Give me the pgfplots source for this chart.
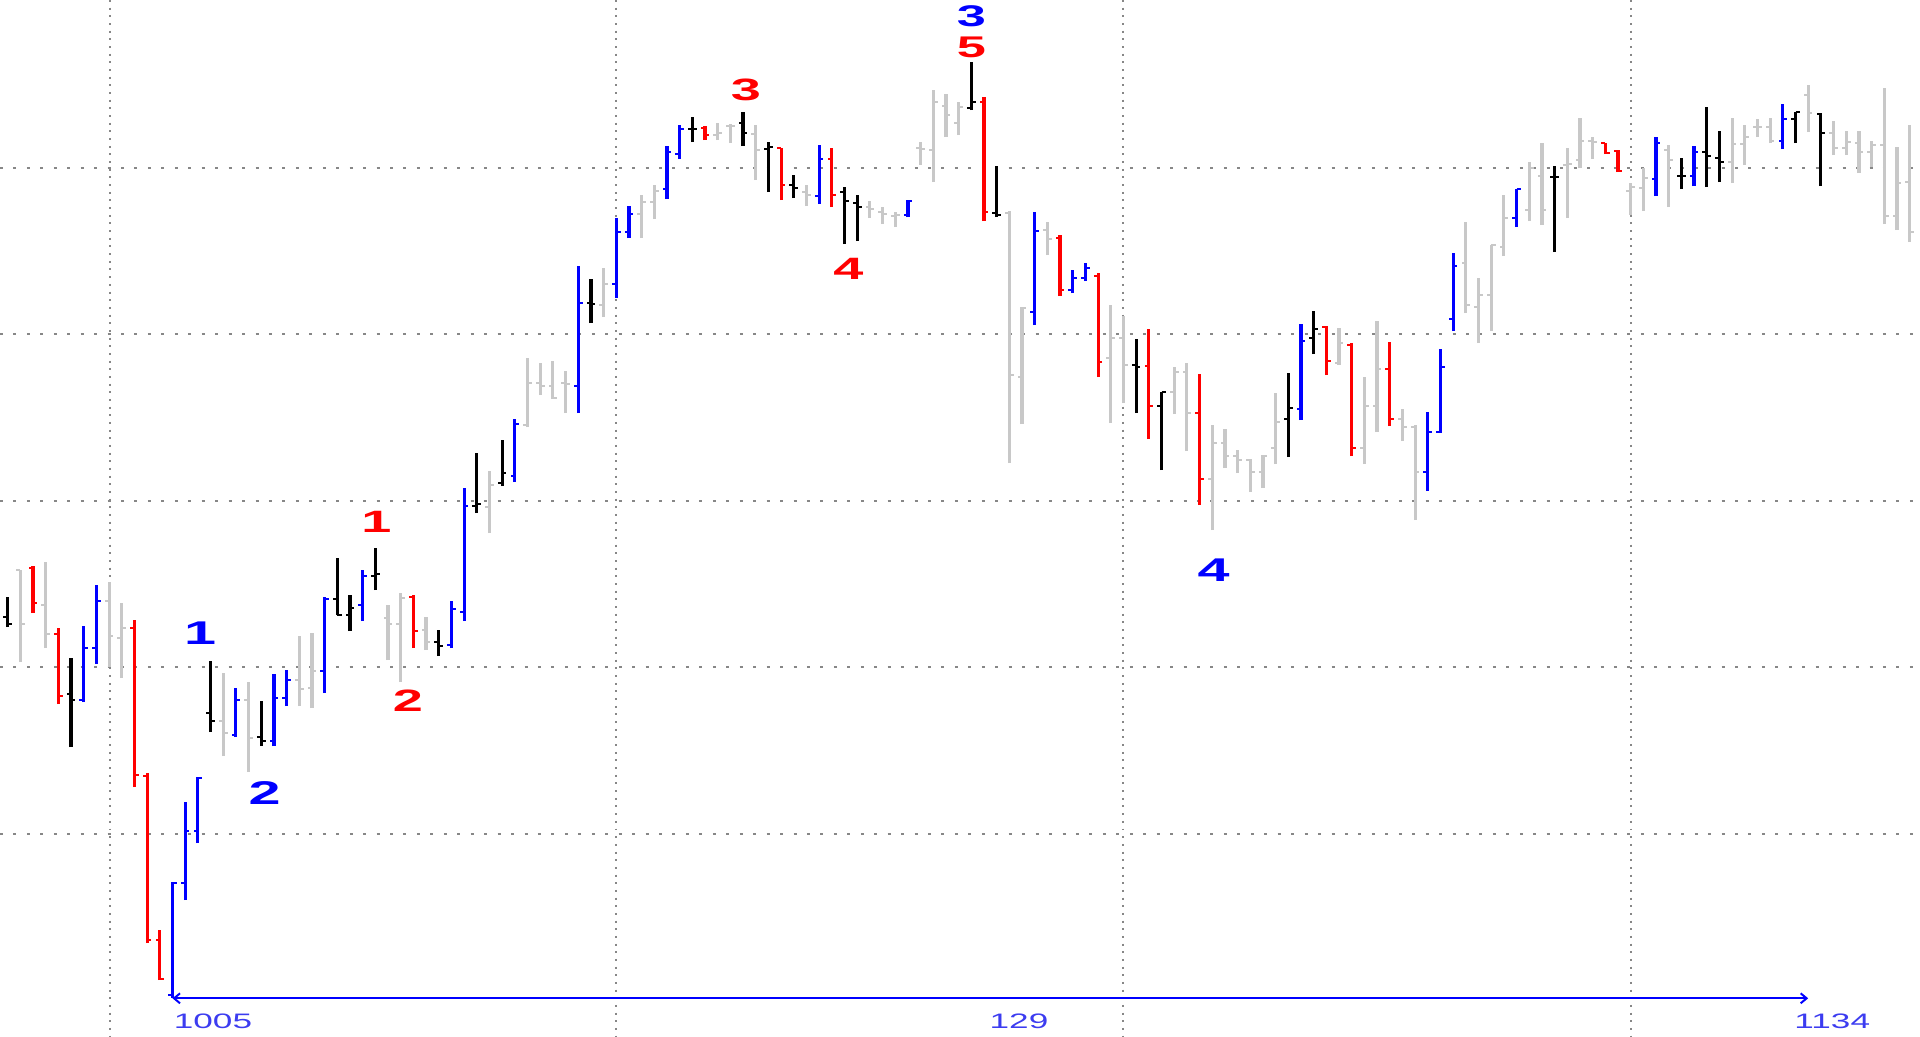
\documentclass[border=0pt]{standalone}
\usepackage{fontspec}
\setmainfont{Liberation Sans}
\usepackage{graphicx}
\usepackage{pgfplots}
\usepackage{pgfplotstable}
\pgfplotsset{compat=1.18}
\usetikzlibrary{arrows.meta}
\definecolor{bargray}{RGB}{200,200,200}
\definecolor{barblue}{RGB}{0,0,255}
\definecolor{barred}{RGB}{255,0,0}
\definecolor{gridgray}{RGB}{135,135,135}
\definecolor{lblblue}{RGB}{60,60,240}

% columns: x (bar index), o (open), h (high), l (low), c (close); prices in chart units (downward axis)
\pgfplotstableread{
x o h l c
-12 570 570 662 624
-10 605 562 648 634
-5 601 582 667 636
-4 638 603 678 628
4 721 673 756 733
6 700 682 772 738
10 680 636 706 689
11 688 633 708 671
17 618 605 660 624
18 624 593 682 598
20 630 617 650 642
25 507 471 533 485
28 425 358 427 383
29 383 363 395 386
30 386 361 399 398
31 383 371 413 384
34 305 268 317 284
37 214 195 238 202
38 202 185 219 191
43 135 123 140 133
44 126 124 143 126
46 134 125 180 150
50 192 185 206 195
55 207 201 218 209
56 212 207 224 214
57 216 212 227 215
59 148 142 165 149
60 150 90 182 102
61 106 94 137 115
62 123 102 135 107
66 213 211 463 375
67 377 307 424 308
69 230 222 255 239
74 358 305 423 338
75 338 316 403 365
79 392 367 414 372
80 372 363 451 413
82 479 425 530 443
83 443 429 468 456
84 456 450 473 460
85 460 459 492 472
86 472 455 488 456
87 448 393 464 422
92 363 328 365 343
94 448 377 464 406
95 406 321 432 369
97 419 409 441 427
98 427 425 520 472
102 263 222 313 305
103 307 278 343 295
104 295 245 331 245
105 247 195 256 218
107 210 162 221 168
108 176 143 225 210
110 165 148 218 164
111 160 118 168 141
112 141 137 159 142
115 191 183 215 187
116 188 168 211 178
118 150 145 207 160
123 162 118 183 144
124 144 125 165 137
125 127 119 137 127
126 127 118 143 141
129 95 85 132 113
131 133 121 155 148
132 148 131 155 142
133 143 131 173 152
134 152 141 167 145
135 145 88 224 216
136 216 147 230 183
137 182 125 242 232
}\graydata

\pgfplotstableread{
x o h l c
-13 617 597 627 624
-8 694 658 747 700
3 713 661 732 721
7 737 701 746 741
13 599 558 615 615
14 615 595 631 608
16 576 548 590 574
21 642 630 656 646
24 506 453 513 504
26 483 440 486 473
33 303 279 323 304
41 129 117 142 129
45 123 112 146 133
47 149 142 192 147
49 185 175 198 188
53 192 187 244 201
54 203 195 241 207
63 108 62 110 102
65 213 166 217 215
76 365 339 413 367
78 406 392 470 392
88 419 373 457 408
90 338 311 354 329
109 177 166 252 177
119 176 158 189 176
121 152 107 187 156
122 158 131 182 162
128 119 112 143 112
130 114 113 186 133
}\blackdata

\pgfplotstableread{
x o h l c
-7 700 626 702 648
-6 648 585 664 601
0 995 882 998 883
1 883 802 900 831
2 831 777 843 778
5 735 688 737 700
8 741 674 746 698
9 698 670 706 680
12 671 597 693 599
15 605 570 621 576
22 645 601 648 609
23 612 488 621 506
27 476 419 482 424
32 386 266 413 303
35 284 218 298 232
36 232 206 238 214
39 189 146 199 152
40 154 125 159 129
51 196 145 204 159
58 215 200 217 201
68 312 212 325 231
71 290 270 293 278
72 278 263 281 268
89 409 324 420 341
99 472 412 491 432
100 432 349 433 367
101 319 253 331 266
106 218 189 227 189
117 179 137 196 143
120 176 146 186 152
127 141 104 149 119
}\bluedata

\pgfplotstableread{
x o h l c
-11 568 566 613 603
-9 634 628 704 696
-3 628 620 787 775
-2 776 773 943 940
-1 940 930 980 979
19 597 595 648 631
42 128 126 140 135
48 148 148 200 185
52 159 148 207 195
64 102 97 221 212
70 238 235 296 290
73 276 273 377 362
77 366 329 439 406
81 413 374 505 479
91 327 326 375 361
93 345 343 456 448
96 369 342 426 419
113 143 143 154 153
114 151 150 172 171
}\reddata

\newcommand{\ohlc}[2]{%
  \addplot[#1, line width=1.6pt, quiver={u=0, v=\thisrow{h}-\thisrow{l}}] table[x=x, y=l] {#2};
  \addplot[#1, line width=1.15pt, quiver={u=-0.34, v=0}] table[x=x, y=o] {#2};
  \addplot[#1, line width=1.15pt, quiver={u=0.34, v=0}] table[x=x, y=c] {#2};
}
\newcommand{\biglabel}[5][16.5]{\node[text=#2, inner sep=0pt, anchor=center] at (axis cs:#3,#4) {\fontsize{#1}{#1}\selectfont\bfseries\scalebox{1.75}[1]{#5}};}

\begin{document}
\begin{tikzpicture}
\begin{axis}[
  scale only axis,
  width=960bp, height=518.5bp,
  xmin=-13.604, xmax=137.82,
  ymin=0, ymax=1037, y dir=reverse,
  axis line style={draw=none},
  major tick length=0pt,
  xtick={-4.95,35,75,115},
  ytick={167.5,334,500.7,667,833.5},
  xticklabels={}, yticklabels={},
  xmajorgrids, ymajorgrids,
  x grid style={gridgray, line width=1pt, dash pattern=on 1pt off 2.85pt},
  y grid style={gridgray, line width=1pt, dash pattern=on 1.5pt off 5.25pt},
]
\coordinate (sw) at (rel axis cs:0,0);
\coordinate (ne) at (rel axis cs:1,1);
\ohlc{bargray}{\graydata}
\ohlc{black}{\blackdata}
\ohlc{barblue}{\bluedata}
\ohlc{barred}{\reddata}
\addplot[barblue, line width=1pt, {Straight Barb[length=3pt,width=5pt]}-{Straight Barb[length=3pt,width=5pt]}] coordinates {(0,998.3) (129,998.3)};
\biglabel{barblue}{2.17}{633}{1}
\biglabel{barblue}{7.26}{793.5}{2}
\biglabel[15.5]{barred}{16.09}{521.6}{1}
\biglabel[15.5]{barred}{18.57}{701}{2}
\biglabel[15.5]{barred}{45.23}{89.5}{3}
\biglabel[15.5]{barred}{53.31}{269}{4}
\biglabel[15]{barblue}{63.01}{16.5}{3}
\biglabel[15]{barred}{63.01}{47.5}{5}
\biglabel{barblue}{82.1}{570.6}{4}
\node[text=lblblue, inner sep=0pt, anchor=west] at (axis cs:0.08,1020.8) {\fontsize{10.5}{10.5}\selectfont\scalebox{1.68}[1]{1005}};
\node[text=lblblue, inner sep=0pt, anchor=center] at (axis cs:66.76,1020.8) {\fontsize{10.5}{10.5}\selectfont\scalebox{1.68}[1]{129}};
\node[text=lblblue, inner sep=0pt, anchor=center] at (axis cs:130.9,1020.8) {\fontsize{10.5}{10.5}\selectfont\scalebox{1.68}[1]{1134}};
\end{axis}
\pgfresetboundingbox
\path[use as bounding box] (sw) rectangle (ne);
\end{tikzpicture}
\end{document}
